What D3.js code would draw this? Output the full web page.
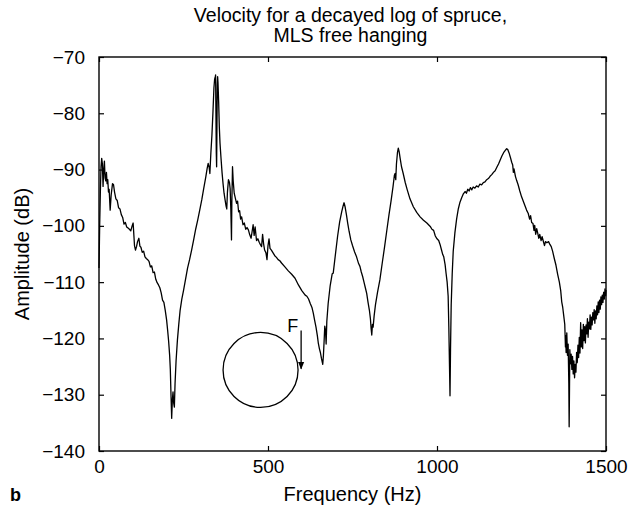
<!DOCTYPE html>
<html>
<head>
<meta charset="utf-8">
<script src="https://cdn.jsdelivr.net/npm/d3@7"></script>
<style>
	body { margin: 0; background: #fff; }
	text { font-family: "Liberation Sans", Arial, sans-serif; fill: #000; }
</style>
</head>
<body>
<div id="chart"></div>
<script>
// GLOBAL DATA

// Frequency points (Hz)
const freq = [
	0, 2, 4, 6, 8, 10, 12, 14, 16, 18, 20, 22, 24, 26, 28, 30, 33, 36, 40, 43,
	46, 50, 54, 58, 62, 66, 70, 74, 78, 82, 86, 90, 94, 98, 101, 103, 105, 108, 111, 114,
	118, 121, 124, 128, 132, 136, 140, 144, 148, 152, 156, 160, 164, 168, 172, 176, 180, 184, 188, 192,
	196, 200, 203, 206, 209, 211, 213, 215, 217, 219, 221, 223, 225, 228, 232, 236, 240, 245, 250, 256,
	262, 268, 274, 280, 286, 292, 298, 304, 310, 316, 320, 323, 326, 328, 331, 334, 337, 340, 342, 344,
	345, 346, 347, 348, 349, 350, 351, 352, 354, 356, 358, 361, 364, 367, 370, 373, 376, 378, 380, 383,
	386, 388, 390, 392, 393, 395, 397, 400, 403, 407, 410, 413, 416, 419, 422, 426, 430, 434, 438, 442,
	446, 450, 453, 456, 459, 462, 466, 470, 474, 478, 481, 484, 487, 490, 494, 497, 500, 503, 506, 510,
	515, 520, 525, 530, 535, 540, 550, 560, 570, 580, 590, 600, 610, 615, 620, 625, 630, 634, 638, 642,
	646, 649, 652, 655, 658, 662, 664, 666, 668, 670, 672, 674, 678, 684, 690, 693, 700, 706, 712, 718,
	722, 725, 728, 732, 736, 740, 745, 750, 756, 762, 768, 772, 776, 780, 784, 788, 792, 796, 800, 803,
	805, 807, 809, 811, 814, 818, 824, 831, 838, 845, 852, 858, 864, 870, 874, 876, 878, 880, 883, 885.5,
	888, 891, 895, 900, 906, 912, 920, 930, 940, 950, 960, 970, 980, 985, 990, 995, 1000, 1005, 1009, 1013,
	1017, 1020, 1024, 1027, 1030, 1033, 1035, 1037, 1038.5, 1040, 1042, 1045, 1048, 1053, 1058, 1063, 1068, 1073, 1078, 1083,
	1087, 1091, 1095, 1099, 1103, 1107, 1112, 1117, 1122, 1127, 1132, 1137, 1142, 1147, 1152, 1157, 1162, 1167, 1172, 1177,
	1182, 1187, 1192, 1197, 1202, 1206, 1209, 1213, 1217, 1221, 1224, 1226, 1228, 1232, 1236, 1240, 1245, 1250, 1255, 1260,
	1265, 1270, 1274, 1277, 1280, 1284, 1287, 1289, 1292, 1295, 1298, 1301, 1304, 1308, 1311, 1314, 1318, 1321, 1325, 1330,
	1334, 1338, 1342, 1347, 1352, 1357, 1362, 1366, 1369, 1372, 1375, 1378, 1380, 1381, 1382, 1384, 1386, 1388, 1390, 1391,
	1392, 1393, 1395, 1397, 1399, 1401, 1403, 1405, 1407, 1409, 1411, 1413, 1415, 1417, 1419, 1421, 1423, 1425, 1427, 1429,
	1431, 1433, 1435, 1437, 1439, 1441, 1443, 1445, 1447, 1449, 1451, 1453, 1455, 1457, 1459, 1461, 1463, 1465, 1467, 1469,
	1471, 1473, 1475, 1477, 1479, 1481, 1483, 1485, 1487, 1489, 1491, 1493, 1495, 1497, 1499, 1500
];

// Amplitude (dB) at each frequency point
const amp = [
	-107.5, -100, -94, -89.5, -88, -89, -93, -90, -88.5, -91.5, -92, -90.5, -92.5, -91.8, -94, -93.5, -97.2, -94.5, -92.5, -92.7,
	-94, -95.2, -95.5, -96.8, -97, -98, -98.5, -99.7, -99.4, -100.2, -100.4, -100.6, -100.9, -100, -99.5, -101.5, -103.5, -104.3, -103.7, -102.8,
	-102.2, -103.6, -103.8, -104.7, -104.5, -105.5, -105.8, -106, -106.3, -107.3, -107.1, -108.3, -108.2, -109.5, -110.1, -110.5, -111, -111.9, -113.2, -113.6,
	-115, -116.7, -118.5, -120.5, -123, -125.5, -130, -134.2, -131, -129.5, -131.5, -132.2, -128, -124, -120.3, -117.5, -115, -113, -111.5, -109.5,
	-107.5, -106, -104.3, -102.5, -100.6, -99, -97.2, -95.4, -93.3, -91.3, -89.8, -88.9, -89.6, -90.7, -87, -84, -80, -75.5, -74, -73.5,
	-73.2, -80, -87, -89.5, -82, -75, -73.5, -74.5, -78, -82.5, -85.3, -88, -90.5, -92.5, -94.2, -95.4, -96.5, -97, -94, -91.8,
	-92.3, -93.4, -97, -102.5, -96, -89.5, -92, -94.2, -95, -96, -95.6, -97.5, -97.3, -98.8, -98.4, -99.8, -99.5, -100.6, -100.3, -100.7,
	-101.6, -102.2, -101, -99.8, -101.7, -100.2, -102.6, -102.3, -102.9, -103.4, -103.7, -101.5, -103.2, -104.3, -104.8, -106, -103.5, -102.3, -104, -104.3,
	-104.8, -105.3, -105.6, -106, -106.2, -106.6, -107.3, -108, -108.6, -109.3, -110.5, -111.5, -112.3, -112.5, -113, -113.8, -114.5, -115.5, -116.8, -118,
	-119.5, -120.9, -121.8, -122.5, -123.5, -124.6, -123, -120.5, -117.8, -118.5, -121, -117, -113.8, -110.6, -108.5, -108.4, -104.8, -101.8, -99.3, -97.5,
	-96.5, -95.9, -96.6, -98, -99.6, -101, -102.5, -103.5, -104.6, -105.5, -106.7, -107.2, -108.2, -109, -110, -111, -112, -113.6, -115, -116.5,
	-118.2, -119.4, -117.5, -118, -116, -114, -111.8, -109.6, -106.6, -103.7, -100.6, -98, -95.6, -93, -91, -90.7, -91.8, -89, -87, -86.2,
	-86.8, -88, -89.5, -90.7, -92.3, -93.6, -95.2, -96.6, -97.6, -98.4, -99, -99.5, -100.1, -100.6, -100.8, -101.8, -102.3, -102.6, -103.3, -104.2,
	-105.1, -105.5, -106.9, -108.5, -110, -112.5, -118, -125, -130.2, -122, -114, -108.5, -104.5, -101.2, -98.8, -97, -95.8, -95, -94.3, -93.9,
	-94.2, -93.5, -93.8, -93.2, -93.6, -93.1, -93.3, -92.9, -93.1, -92.6, -92.7, -92.3, -92.2, -91.8, -91.6, -91.2, -90.9, -90.5, -90.2, -89.6,
	-89, -88.3, -87.6, -87, -86.6, -86.3, -86.4, -87, -87.8, -88.7, -89.2, -90.5, -89.9, -91.2, -92, -92.7, -93.8, -94.8, -95.6, -96.4,
	-97.2, -97.8, -98.8, -98.2, -99.4, -99.6, -100.8, -99.9, -101.5, -100.5, -101.3, -102.2, -101.5, -102.6, -101.9, -102.6, -103.5, -102.8, -103, -102.8,
	-103.3, -103.7, -104.5, -105.8, -107, -108.6, -110, -111.5, -113.5, -114.5, -116, -117.5, -121.5, -119.5, -122.5, -119, -123, -121, -128, -135.7,
	-129, -122, -124.5, -122.8, -125.5, -123.2, -126.3, -124, -127, -124.6, -126, -122.5, -124.3, -121.2, -123.4, -119.8, -122.6, -117.2, -121.5, -118.5,
	-121.8, -117.5, -120.4, -117.9, -120.8, -117.6, -119.2, -116.5, -119.8, -117.1, -118.3, -115.8, -118.4, -116.2, -117.6, -115.4, -116.7, -114.9, -117.3, -115.1,
	-116.5, -114.2, -115.8, -113.5, -115.4, -113.2, -114.8, -112.6, -114, -112.3, -113.6, -111.8, -113, -111.2, -112.4, -111.4
];

// Tick labels
const xTicks = [0, 500, 1000, 1500];
const yTicks = [-70, -80, -90, -100, -110, -120, -130, -140];

// Sketch of the free hanging log with the force point, in data units
const logCircle = [478, -125.6];
const forceArrow = [[598, -118.6], [598, -125.4]];
const forceLabel = [557, -118.9];

// Chart size
const width = 629, height = 509;
const margin = {top: 57, right: 23, bottom: 58, left: 99};

function draw() {
	const svg = d3.select("#chart")
	  .append("svg")
	    .attr("width", width)
	    .attr("height", height);

	const x = d3.scaleLinear()
	  .domain([0, 1500])
	  .range([margin.left, width - margin.right]);

	const y = d3.scaleLinear()
	  .domain([-140, -70])
	  .range([height - margin.bottom, margin.top]);

	// Minus signs like the printed figure
	const fmt = d => d < 0 ? "\u2212" + Math.abs(d) : d;

	// Axes with inward ticks, labels on bottom and left only
	svg.append("g")
	  .attr("transform", "translate(0," + y(-140) + ")")
	  .call(d3.axisBottom(x).tickValues(xTicks).tickSize(-5).tickPadding(9).tickFormat(fmt));
	svg.append("g")
	  .attr("transform", "translate(" + x(0) + ",0)")
	  .call(d3.axisLeft(y).tickValues(yTicks).tickSize(-5).tickPadding(14).tickFormat(fmt));
	svg.append("g")
	  .attr("transform", "translate(0," + y(-70) + ")")
	  .call(d3.axisTop(x).tickValues(xTicks).tickSize(-5).tickFormat(""));
	svg.append("g")
	  .attr("transform", "translate(" + x(1500) + ",0)")
	  .call(d3.axisRight(y).tickValues(yTicks).tickSize(-5).tickFormat(""));

	svg.selectAll(".domain").remove();
	svg.selectAll(".tick line").attr("stroke", "#000").attr("stroke-width", 1.2);
	svg.selectAll(".tick text").attr("font-size", 19).style("font-family", "'Liberation Sans', Arial, sans-serif");

	// Frame
	svg.append("rect")
	  .attr("x", x(0))
	  .attr("y", y(-70))
	  .attr("width", x(1500) - x(0))
	  .attr("height", y(-140) - y(-70))
	  .attr("fill", "none")
	  .attr("stroke", "#000")
	  .attr("stroke-width", 1.4);

	// The response curve
	const line = d3.line()
	  .x(d => x(d[0]))
	  .y(d => y(d[1]));

	svg.append("path")
	  .datum(d3.zip(freq, amp))
	  .attr("d", line)
	  .attr("fill", "none")
	  .attr("stroke", "#000")
	  .attr("stroke-width", 1.3)
	  .attr("stroke-linejoin", "round");

	// Log sketch with force arrow
	svg.append("circle")
	  .attr("cx", x(logCircle[0]))
	  .attr("cy", y(logCircle[1]))
	  .attr("r", 37.5)
	  .attr("fill", "none")
	  .attr("stroke", "#000")
	  .attr("stroke-width", 1.3);

	svg.append("defs").append("marker")
	  .attr("id", "head")
	  .attr("viewBox", "0 0 10 10")
	  .attr("refX", 9).attr("refY", 5)
	  .attr("markerWidth", 6).attr("markerHeight", 6)
	  .attr("orient", "auto")
	  .append("path")
	  .attr("d", "M0,1L10,5L0,9Z")
	  .attr("fill", "#000");

	svg.append("line")
	  .attr("x1", x(forceArrow[0][0])).attr("y1", y(forceArrow[0][1]))
	  .attr("x2", x(forceArrow[1][0])).attr("y2", y(forceArrow[1][1]))
	  .attr("stroke", "#000")
	  .attr("stroke-width", 1.3)
	  .attr("marker-end", "url(#head)");

	svg.append("text")
	  .attr("x", x(forceLabel[0]))
	  .attr("y", y(forceLabel[1]))
	  .attr("font-size", 18)
	  .text("F");

	// Titles and axis labels
	const cx = (x(0) + x(1500)) / 2 - 2;
	svg.append("text")
	  .attr("x", cx).attr("y", 22)
	  .attr("text-anchor", "middle")
	  .attr("font-size", 19.5)
	  .text("Velocity for a decayed log of spruce,");
	svg.append("text")
	  .attr("x", cx).attr("y", 42)
	  .attr("text-anchor", "middle")
	  .attr("font-size", 19.5)
	  .text("MLS free hanging");

	svg.append("text")
	  .attr("x", cx + 2).attr("y", 501)
	  .attr("text-anchor", "middle")
	  .attr("font-size", 20)
	  .text("Frequency (Hz)");

	svg.append("text")
	  .attr("transform", "translate(29," + y(-105) + ") rotate(-90)")
	  .attr("text-anchor", "middle")
	  .attr("font-size", 20)
	  .text("Amplitude (dB)");

	svg.append("text")
	  .attr("x", 10).attr("y", 501)
	  .attr("font-size", 18)
	  .attr("font-weight", "bold")
	  .text("b");
}

window.onload = draw();
</script>
</body>
</html>
